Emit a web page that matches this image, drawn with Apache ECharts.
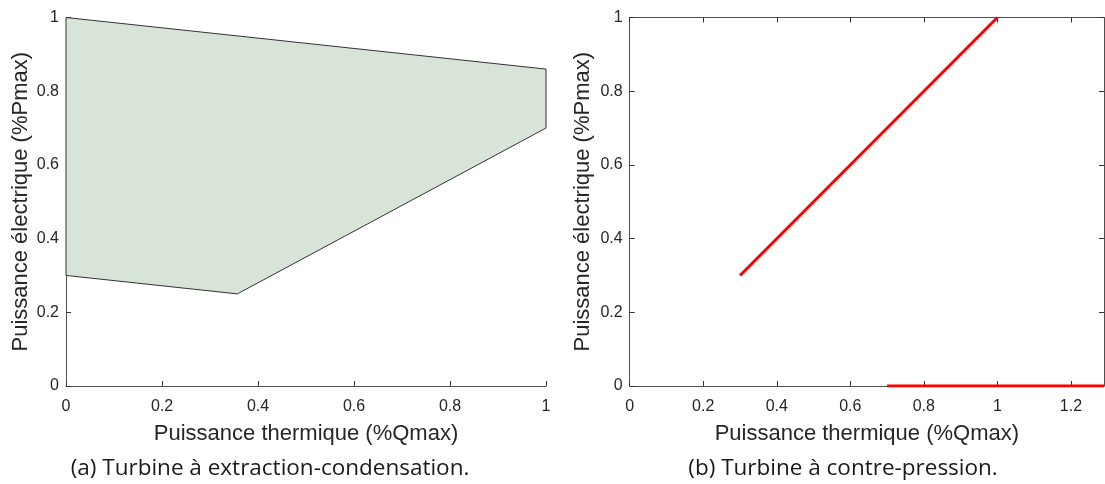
<!DOCTYPE html>
<html><head><meta charset="utf-8">
<script src="https://cdn.jsdelivr.net/npm/echarts@6/dist/echarts.min.js"></script>
<style>html,body{margin:0;padding:0;background:#fff}#c{width:1105px;height:484px}</style>
</head><body><div id="c"></div>
<script>
// (a) extraction-condensation operating polygon
const polyQ = [0, 1, 1, 0.357, 0];
const polyP = [1, 0.86, 0.70, 0.25, 0.30];
// (b) back-pressure turbine
const bpLineQ = [0.3, 1];
const bpLineP = [0.3, 1];
const bpZeroQ = [0.7, 1.29];
const bpZeroP = [0, 0];
const ticksA = [0, 0.2, 0.4, 0.6, 0.8, 1];
const ticksB = [0, 0.2, 0.4, 0.6, 0.8, 1, 1.2];
const ticksY = [0, 0.2, 0.4, 0.6, 0.8, 1];
const xName = 'Puissance thermique (%Qmax)';
const yName = 'Puissance électrique (%Pmax)';
const capA = '(a) Turbine à extraction-condensation.';
const capB = '(b) Turbine à contre-pression.';

const FONT = 'Liberation Sans';
const axCol = '#505050';
const txtCol = '#262626';

function xAx(gi, max, ticks, pos, show) {
  return {
    type: 'value', gridIndex: gi, min: 0, max: max, position: pos,
    name: show ? xName : '', nameLocation: 'middle', nameGap: 37,
    nameTextStyle: {fontFamily: FONT, fontSize: 22, color: txtCol},
    axisLine: {show: true, onZero: false, lineStyle: {color: axCol, width: 1}},
    axisTick: {show: true, inside: true, length: 5, customValues: ticks, lineStyle: {color: '#333'}},
    axisLabel: {show: show, customValues: ticks, fontFamily: FONT, fontSize: 16, color: txtCol, margin: 13,
      formatter: v => String(+v.toFixed(2))},
    splitLine: {show: false}
  };
}
function yAx(gi, pos, show, gap) {
  return {
    type: 'value', gridIndex: gi, min: 0, max: 1, position: pos,
    name: show ? yName : '', nameLocation: 'middle', nameGap: gap, nameRotate: 90,
    nameTextStyle: {fontFamily: FONT, fontSize: 22, color: txtCol},
    axisLine: {show: true, onZero: false, lineStyle: {color: axCol, width: 1}},
    axisTick: {show: true, inside: true, length: 5, customValues: ticksY, lineStyle: {color: '#333'}},
    axisLabel: {show: show, customValues: ticksY, fontFamily: FONT, fontSize: 16, color: txtCol, margin: 7,
      formatter: v => String(+v.toFixed(2))},
    splitLine: {show: false}
  };
}

const polyData = polyQ.map((q, i) => [q, polyP[i]]);

const option = {
  animation: false,
  backgroundColor: '#fff',
  grid: [
    {left: 66, top: 17.5, width: 480, height: 368.5},
    {left: 629.7, top: 17.5, width: 474.3, height: 368.5}
  ],
  xAxis: [
    xAx(0, 1, ticksA, 'bottom', true),
    xAx(1, 1.29, ticksB, 'bottom', true),
    xAx(1, 1.29, ticksB, 'top', false)
  ],
  yAxis: [
    yAx(0, 'left', true, 34),
    yAx(1, 'left', true, 36),
    yAx(1, 'right', false, 0)
  ],
  title: [
    {text: capA, left: 265, top: 452, textAlign: 'center',
      textStyle: {fontFamily: 'Open Sans', fontSize: 22.5, fontWeight: 'normal', color: '#1a1a1a'}},
    {text: capB, left: 838, top: 452, textAlign: 'center',
      textStyle: {fontFamily: 'Open Sans', fontSize: 22.5, fontWeight: 'normal', color: '#1a1a1a'}}
  ],
  series: [
    {
      type: 'custom', xAxisIndex: 0, yAxisIndex: 0, data: polyData, z: 1,
      renderItem: function (params, api) {
        if (params.dataIndex !== 0) return null;
        const pts = polyData.map(d => api.coord(d));
        return {type: 'polygon', shape: {points: pts},
          style: {fill: '#d9e4d9', stroke: '#333333', lineWidth: 1}};
      }
    },
    {
      type: 'line', xAxisIndex: 1, yAxisIndex: 1, symbol: 'none', z: 5,
      data: bpLineQ.map((q, i) => [q, bpLineP[i]]),
      lineStyle: {color: '#ff0000', width: 3}
    },
    {
      type: 'line', xAxisIndex: 1, yAxisIndex: 1, symbol: 'none', z: 5,
      data: bpZeroQ.map((q, i) => [q, bpZeroP[i]]),
      lineStyle: {color: '#ff0000', width: 3}
    }
  ]
};
const chart = echarts.init(document.getElementById('c'), null, {renderer: 'canvas'});
chart.setOption(option);
</script></body></html>
